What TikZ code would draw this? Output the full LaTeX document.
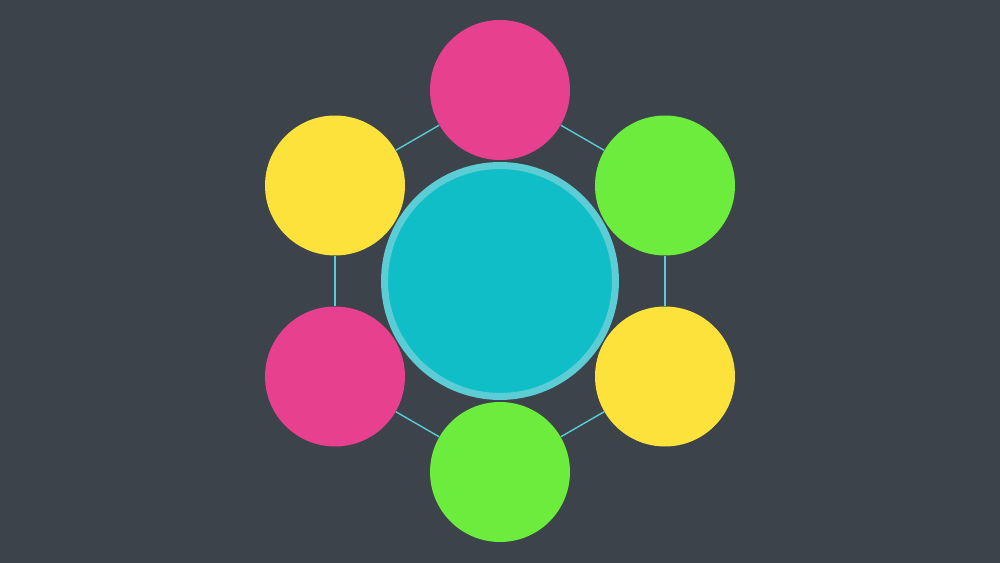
\documentclass[tikz,border=0pt]{standalone}
\usepackage{xcolor}
\usepackage{tikz}
\definecolor{bgdark}{HTML}{3D434B}
\definecolor{hubfill}{HTML}{10BEC8}
\definecolor{hubrim}{HTML}{5CCCD5}
\definecolor{linkcol}{HTML}{5ACBD6}
\definecolor{pinkc}{HTML}{E6408F}
\definecolor{yellowc}{HTML}{FDE23B}
\definecolor{greenc}{HTML}{6CEC3C}

\begin{document}
\begin{tikzpicture}[x=0.02cm,y=-0.02cm,bubble/.style={circle,inner sep=0pt,minimum size=2.8cm},hub/.style={circle,inner sep=0pt,minimum size=4.62cm,fill=hubfill,draw=hubrim,line width=0.14cm},link/.style={draw=linkcol,line width=0.8pt}]
    \fill[bgdark] (0,0) rectangle (1000,563);
    \useasboundingbox (0,0) rectangle (1000,563);
    \node[bubble,fill=pinkc](top) at (500,90){};
    \node[bubble,fill=greenc](upright) at (665,185.5){};
    \node[bubble,fill=yellowc](lowright) at (665,376.5){};
    \node[bubble,fill=greenc](bottom) at (500,472){};
    \node[bubble,fill=pinkc](lowleft) at (335,376.5){};
    \node[bubble,fill=yellowc](upleft) at (335,185.5){};
    \node[hub](hub) at (500,281){};
    % ring links between neighbours
    \draw[link] (top) -- (upright);
    \draw[link] (upright) -- (lowright);
    \draw[link] (lowright) -- (bottom);
    \draw[link] (bottom) -- (lowleft);
    \draw[link] (lowleft) -- (upleft);
    \draw[link] (upleft) -- (top);
  \end{tikzpicture}
\end{document}
